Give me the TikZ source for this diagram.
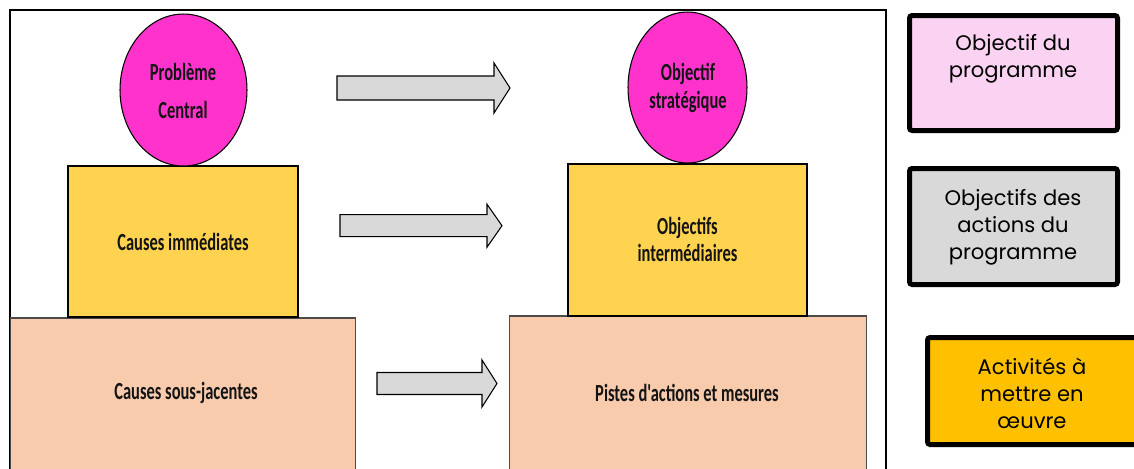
\documentclass[tikz,border=0pt]{standalone}
\usepackage{fontspec}
\usetikzlibrary{shapes.geometric}
\newfontfamily\treefont[FakeStretch=0.67]{Carlito}
\newfontfamily\legendfont{Poppins}

\definecolor{problemfill}{HTML}{FF33CC}
\definecolor{causefill}{HTML}{FFD34F}
\definecolor{rootfill}{HTML}{F8CBAD}
\definecolor{arrowfill}{HTML}{D9D9D9}
\definecolor{pinkfill}{HTML}{FBD3F2}
\definecolor{greyfill}{HTML}{D9D9D9}
\definecolor{orangefill}{HTML}{FFC000}
\definecolor{inkcol}{HTML}{141414}

% block arrow: name, shaft start, head start, tip, centre y, shaft half height, head half height
\newcommand\blockarrow[7]{%
  \draw[arrowshape] (#2,#5-#6) -- (#3,#5-#6) -- (#3,#5-#7) -- (#4,#5)
    -- (#3,#5+#7) -- (#3,#5+#6) -- (#2,#5+#6) -- cycle;
  \coordinate (#1) at (#4,#5);}

\begin{document}
\begin{tikzpicture}[x=0.02cm,y=-0.02cm,
  treetext/.style={font=\treefont\bfseries\fontsize{14}{15.5}\selectfont,
    text=inkcol, align=center, inner sep=0pt},
  bubble/.style={ellipse, draw=black, line width=0.6pt, fill=problemfill,
    inner sep=0pt, outer sep=0pt},
  midbox/.style={rectangle, draw=black, line width=0.6pt, fill=causefill,
    inner sep=0pt, outer sep=0pt},
  basebox/.style={rectangle, draw=black!70, line width=0.6pt, fill=rootfill,
    inner sep=0pt, outer sep=0pt},
  arrowshape/.style={draw=black, line width=0.6pt, fill=arrowfill, line join=miter},
  legendbox/.style={draw=black, line width=0.1cm, rounded corners=1.5pt},
  legendtext/.style={font=\legendfont\fontsize{12}{15.4}\selectfont,
    text=black, align=center, inner sep=0pt}]

\useasboundingbox (0,0) rectangle (1134,468);
\clip (0,0) rectangle (1134,468);

% outer frame
\draw[black, line width=1pt, fill=white] (10,10) rectangle (886,520);

% problem tree (left column)
\node[basebox, minimum width=6.92cm, minimum height=4cm, anchor=north] (sous) at (183,318) {};
\node[treetext] (sousT) at (186,393) {Causes sous-jacentes};
\node[midbox, minimum width=4.6cm, minimum height=3.02cm] (imm) at (183,241.5) {};
\node[treetext] (immT) at (183,242) {Causes immédiates};
\node[bubble, minimum width=2.54cm, minimum height=3.04cm] (prob) at (183.5,90) {};
\node[treetext, font=\treefont\bfseries\fontsize{14}{21.6}\selectfont] (probT) at (183,91) {Problème\\Central};

% objective tree (right column)
\node[basebox, minimum width=7.16cm, minimum height=4cm, anchor=north] (pistes) at (688,316) {};
\node[treetext] (pistesT) at (687,393) {Pistes d'actions et mesures};
\node[midbox, minimum width=4.78cm, minimum height=3.04cm] (inter) at (687.5,240) {};
\node[treetext, font=\treefont\bfseries\fontsize{14}{15.4}\selectfont] (interT) at (687.5,239.5) {Objectifs\\intermédiaires};
\node[bubble, minimum width=2.38cm, minimum height=3.02cm] (strat) at (687.5,87.5) {};
\node[treetext, font=\treefont\bfseries\fontsize{14}{16}\selectfont] (stratT) at (688,88) {Objectif\\stratégique};

% transition arrows
\blockarrow{a1}{337}{494}{510}{88}{12}{25}
\blockarrow{a2}{340}{487}{502}{225.7}{11}{21.5}
\blockarrow{a3}{377}{482}{497}{383.5}{11}{23.5}

% legend
\draw[legendbox, fill=pinkfill] (909.5,15.5) rectangle (1117.5,130.5);
\node[legendtext, anchor=north] (leg1) at (1013,34) {Objectif du\\programme};
\draw[legendbox, fill=greyfill] (909.5,168.5) rectangle (1117.5,284.5);
\node[legendtext] (leg2) at (1013,227) {Objectifs des\\actions du\\programme};
\draw[legendbox, fill=orangefill] (927.5,337.5) rectangle (1150,444.5);
\node[legendtext] (leg3) at (1032,393) {Activités à\\mettre en\\œuvre};
\end{tikzpicture}
\end{document}
